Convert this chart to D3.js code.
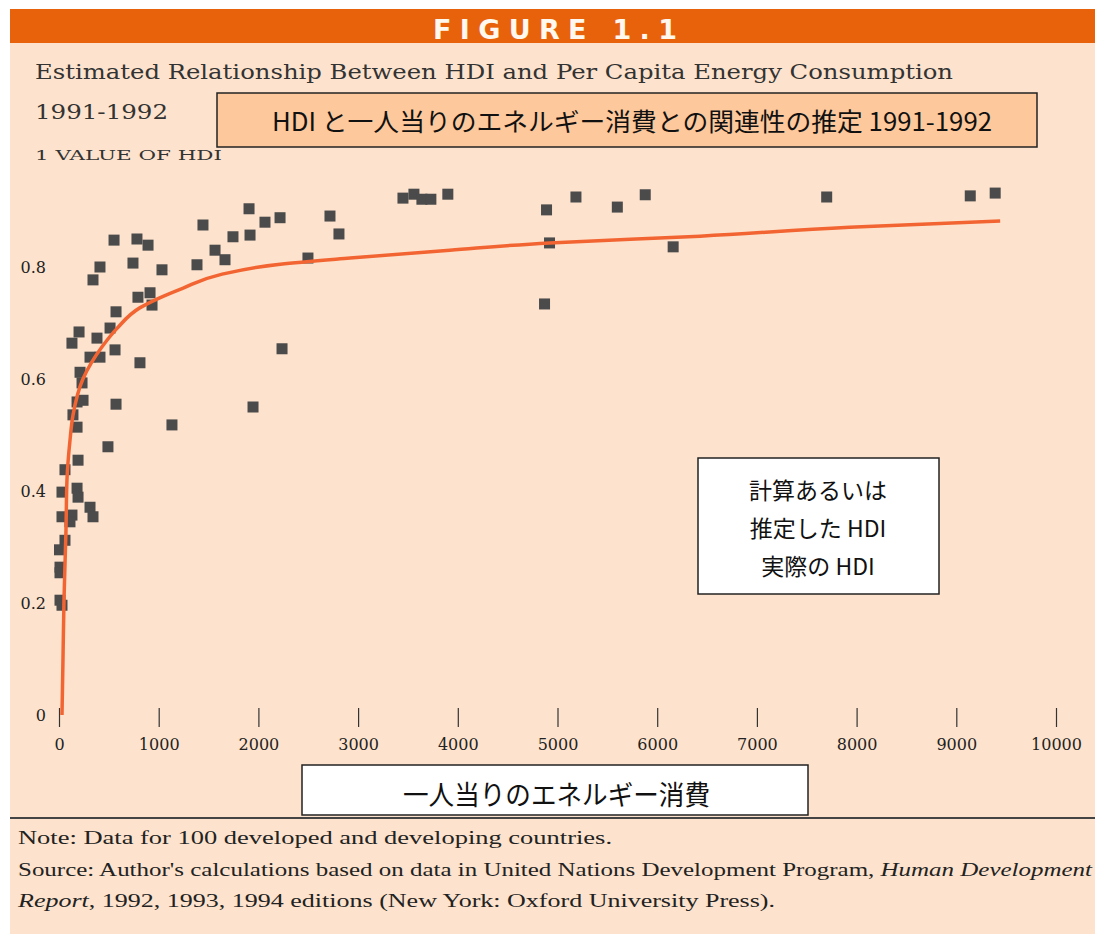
<!DOCTYPE html>
<html>
<head>
<meta charset="utf-8">
<script src="https://cdn.jsdelivr.net/npm/d3@7"></script>
<style>
  html, body { margin: 0; padding: 0; background: #ffffff; }
  svg { display: block; }
</style>
</head>
<body>
<svg id="chart" width="1095" height="934"></svg>
<script>
// ---- Data ----
const energy = [1906,1444,2066,2217,2718,2808,552,782,893,1745,1916,1565,1665,2497,1384,742,411,341,1033,792,913,933,572,512,201,130,381,562,311,411,812,211,231,2237,181,241,572,140,181,1946,1133,491,191,60,30,181,191,311,341,30,130,110,60,5,10,10,10,30,3450,3560,3640,3730,3900,4890,4920,4870,5185,5600,5880,6160,7700,9140,9390];
const hdi = [0.904,0.875,0.880,0.888,0.891,0.859,0.848,0.850,0.839,0.854,0.857,0.830,0.813,0.816,0.804,0.807,0.800,0.777,0.795,0.746,0.754,0.732,0.720,0.691,0.684,0.664,0.673,0.652,0.639,0.639,0.629,0.612,0.593,0.654,0.559,0.562,0.555,0.536,0.514,0.550,0.518,0.479,0.455,0.438,0.398,0.405,0.389,0.371,0.354,0.354,0.357,0.345,0.312,0.295,0.264,0.254,0.205,0.196,0.923,0.930,0.921,0.921,0.930,0.902,0.843,0.734,0.925,0.907,0.929,0.836,0.925,0.927,0.932];
const curveEnergy = [30,40,50,70,80,110,140,240,430,580,810,1010,1240,1610,2220,2920,3920,4920,6430,7930,9440];
const curveHdi   = [0.0,0.10,0.205,0.33,0.42,0.49,0.535,0.60,0.657,0.69,0.727,0.745,0.762,0.786,0.805,0.816,0.830,0.843,0.855,0.871,0.882];
const xTicks = [0,1000,2000,3000,4000,5000,6000,7000,8000,9000,10000];
const yTicks = [0,0.2,0.4,0.6,0.8];
const yTickLabels = ["0","0.2","0.4","0.6","0.8"];

const svg = d3.select("#chart");

// background
svg.append("rect").attr("x",10).attr("y",9).attr("width",1085).attr("height",925).attr("fill","#fde3cd");
svg.append("rect").attr("x",10).attr("y",9).attr("width",1085).attr("height",34).attr("fill","#e8620c");
svg.append("text").attr("x",433).attr("y",39)
  .attr("textLength",244).attr("lengthAdjust","spacing")
  .attr("font-family","DejaVu Sans").attr("font-weight","bold").attr("font-size",27)
  .attr("fill","#fff8ee").text("FIGURE 1.1");

const serif = "DejaVu Serif";
svg.append("text").attr("x",35).attr("y",79).attr("textLength",918).attr("lengthAdjust","spacingAndGlyphs")
  .attr("font-family",serif).attr("font-size",21).attr("fill","#333")
  .text("Estimated Relationship Between HDI and Per Capita Energy Consumption");
svg.append("text").attr("x",35).attr("y",119).attr("textLength",133).attr("lengthAdjust","spacingAndGlyphs")
  .attr("font-family",serif).attr("font-size",21).attr("fill","#333").text("1991-1992");
svg.append("text").attr("x",35).attr("y",160).attr("textLength",187).attr("lengthAdjust","spacingAndGlyphs")
  .attr("font-family",serif).attr("font-size",13).attr("fill","#333").text("1 VALUE OF HDI");

// Japanese title box
svg.append("rect").attr("x",217).attr("y",93).attr("width",820).attr("height",54)
  .attr("fill","#fdc89b").attr("stroke","#222").attr("stroke-width",1.5);
svg.append("text").attr("x",272).attr("y",131).attr("textLength",720).attr("lengthAdjust","spacingAndGlyphs")
  .attr("font-family","Noto Sans CJK JP").attr("font-size",25).attr("fill","#111")
  .text("HDI と一人当りのエネルギー消費との関連性の推定 1991-1992");

// scales
const x = d3.scaleLinear().domain([0,10000]).range([59,1056]);
const y = d3.scaleLinear().domain([0,1]).range([715,155]);

// x axis (tick marks + labels, no domain line)
const xAxis = svg.append("g").attr("transform","translate(0,708)")
  .call(d3.axisBottom(x).tickValues(xTicks).tickSize(19).tickPadding(12).tickFormat(d3.format("d")));
xAxis.select(".domain").remove();
xAxis.selectAll(".tick line").attr("stroke","#333").attr("stroke-width",1.2);
xAxis.selectAll(".tick text").attr("font-family",serif).attr("font-size",16).attr("fill","#222");

// y axis (labels only)
const yAxis = svg.append("g").attr("transform","translate(46,0)")
  .call(d3.axisLeft(y).tickValues(yTicks).tickSize(0).tickPadding(0).tickFormat((d,i)=>yTickLabels[i]));
yAxis.select(".domain").remove();
yAxis.selectAll(".tick text").attr("font-family",serif).attr("font-size",16).attr("fill","#222");

// points
const pts = energy.map((e,i)=>({e:e,h:hdi[i]}));
const sz = 11;
svg.append("g").selectAll("rect").data(pts).join("rect")
  .attr("x",d=>x(d.e)-sz/2).attr("y",d=>y(d.h)-sz/2)
  .attr("width",sz).attr("height",sz).attr("fill","#4b4b4b");

// fitted curve
const cdata = curveEnergy.map((e,i)=>({e:e,h:curveHdi[i]}));
svg.append("path").datum(cdata)
  .attr("d",d3.line().x(d=>x(d.e)).y(d=>y(d.h)).curve(d3.curveMonotoneY))
  .attr("fill","none").attr("stroke","#f26532").attr("stroke-width",3.5);

// legend box
svg.append("rect").attr("x",698).attr("y",458).attr("width",241).attr("height",136)
  .attr("fill","#ffffff").attr("stroke","#222").attr("stroke-width",1.5);
const legLines = ["計算あるいは","推定した HDI","実際の HDI"];
svg.append("g").selectAll("text").data(legLines).join("text")
  .attr("x",818).attr("y",(d,i)=>499+i*38).attr("text-anchor","middle")
  .attr("font-family","Noto Sans CJK JP").attr("font-size",23).attr("fill","#111")
  .text(d=>d);

// x axis title box
svg.append("rect").attr("x",302).attr("y",765).attr("width",506).attr("height",50)
  .attr("fill","#ffffff").attr("stroke","#222").attr("stroke-width",1.5);
svg.append("text").attr("x",403).attr("y",805).attr("textLength",307).attr("lengthAdjust","spacingAndGlyphs")
  .attr("font-family","Noto Sans CJK JP").attr("font-size",27).attr("fill","#111")
  .text("一人当りのエネルギー消費");

// divider
svg.append("line").attr("x1",10).attr("x2",1095).attr("y1",818).attr("y2",818)
  .attr("stroke","#444").attr("stroke-width",2);

// footnotes
const fn = "Liberation Serif";
svg.append("text").attr("x",18).attr("y",844).attr("textLength",594).attr("lengthAdjust","spacingAndGlyphs")
  .attr("font-family",fn).attr("font-size",18).attr("fill","#222")
  .text("Note: Data for 100 developed and developing countries.");
const s2 = svg.append("text").attr("x",18).attr("y",876).attr("textLength",1074).attr("lengthAdjust","spacingAndGlyphs")
  .attr("font-family",fn).attr("font-size",18).attr("fill","#222");
s2.append("tspan").text("Source: Author's calculations based on data in United Nations Development Program, ");
s2.append("tspan").attr("font-style","italic").text("Human Development");
const s3 = svg.append("text").attr("x",18).attr("y",907).attr("textLength",757).attr("lengthAdjust","spacingAndGlyphs")
  .attr("font-family",fn).attr("font-size",18).attr("fill","#222");
s3.append("tspan").attr("font-style","italic").text("Report");
s3.append("tspan").text(", 1992, 1993, 1994 editions (New York: Oxford University Press).");
</script>
</body>
</html>
